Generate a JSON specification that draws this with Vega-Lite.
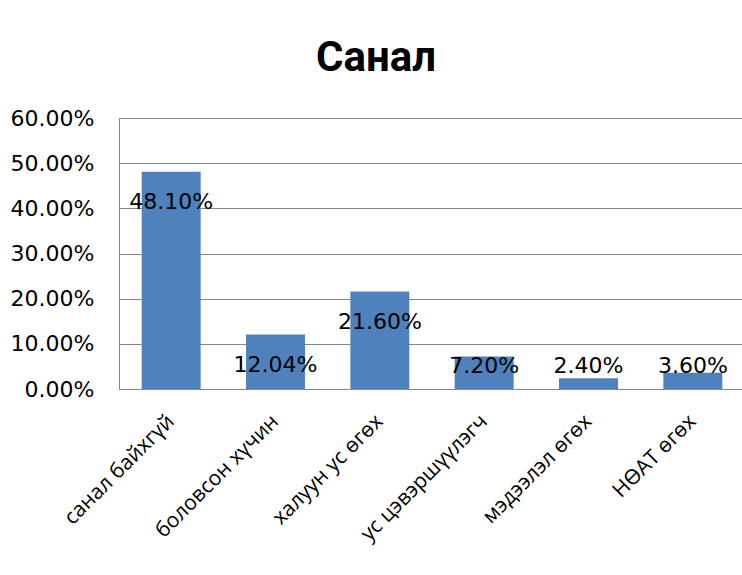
{
  "$schema": "https://vega.github.io/schema/vega-lite/v6.json",
  "autosize": "none",
  "padding": {"left": 119, "top": 118, "right": 0, "bottom": 186},
  "width": 626,
  "height": 271,
  "background": "white",
  "title": {
    "text": "Санал",
    "font": "Roboto",
    "fontSize": 42,
    "fontWeight": "bold",
    "color": "black",
    "anchor": "middle",
    "baseline": "alphabetic",
    "offset": 42,
    "dx": -56,
    "dy": 48
  },
  "data": {
    "values": [
      {"category": "санал байхгүй", "value": 0.481},
      {"category": "боловсон хүчин", "value": 0.1204},
      {"category": "халуун ус өгөх", "value": 0.216},
      {"category": "ус цэвэршүүлэгч", "value": 0.072},
      {"category": "мэдээлэл өгөх", "value": 0.024},
      {"category": "НӨАТ өгөх", "value": 0.036}
    ]
  },
  "encoding": {
    "x": {
      "field": "category",
      "type": "nominal",
      "sort": null,
      "scale": {"paddingInner": 0.435, "paddingOuter": 0.2175},
      "axis": {
        "title": null,
        "labelAngle": -45,
        "labelAlign": "right",
        "labelBaseline": "middle",
        "labelFont": "Open Sans",
        "labelFontSize": 21,
        "labelColor": "black",
        "labelPadding": 29,
        "labelOverlap": false,
        "ticks": false,
        "domainColor": "#868686",
        "labelLimit": 300
      }
    }
  },
  "layer": [
    {
      "mark": {"type": "bar", "color": "#4F81BD"},
      "encoding": {
        "y": {
          "field": "value",
          "type": "quantitative",
          "scale": {"domain": [0, 0.6], "nice": false},
          "axis": {
            "title": null,
            "format": ".2%",
            "values": [0, 0.1, 0.2, 0.3, 0.4, 0.5, 0.6],
            "labelOverlap": false,
            "labelFont": "DejaVu Sans",
            "labelFontSize": 22,
            "labelColor": "black",
            "labelPadding": 25,
            "ticks": false,
            "domain": false,
            "grid": true,
            "gridColor": "#868686",
            "gridWidth": 1
          }
        }
      }
    },
    {
      "transform": [
        {"calculate": "max(datum.value - 0.068, 0.051)", "as": "labelY"}
      ],
      "mark": {
        "type": "text",
        "font": "DejaVu Sans",
        "fontSize": 22,
        "color": "black",
        "baseline": "middle",
        "align": "center"
      },
      "encoding": {
        "y": {"field": "labelY", "type": "quantitative"},
        "text": {"field": "value", "type": "quantitative", "format": ".2%"}
      }
    }
  ],
  "config": {
    "view": {"stroke": "#868686", "strokeWidth": 1}
  }
}
